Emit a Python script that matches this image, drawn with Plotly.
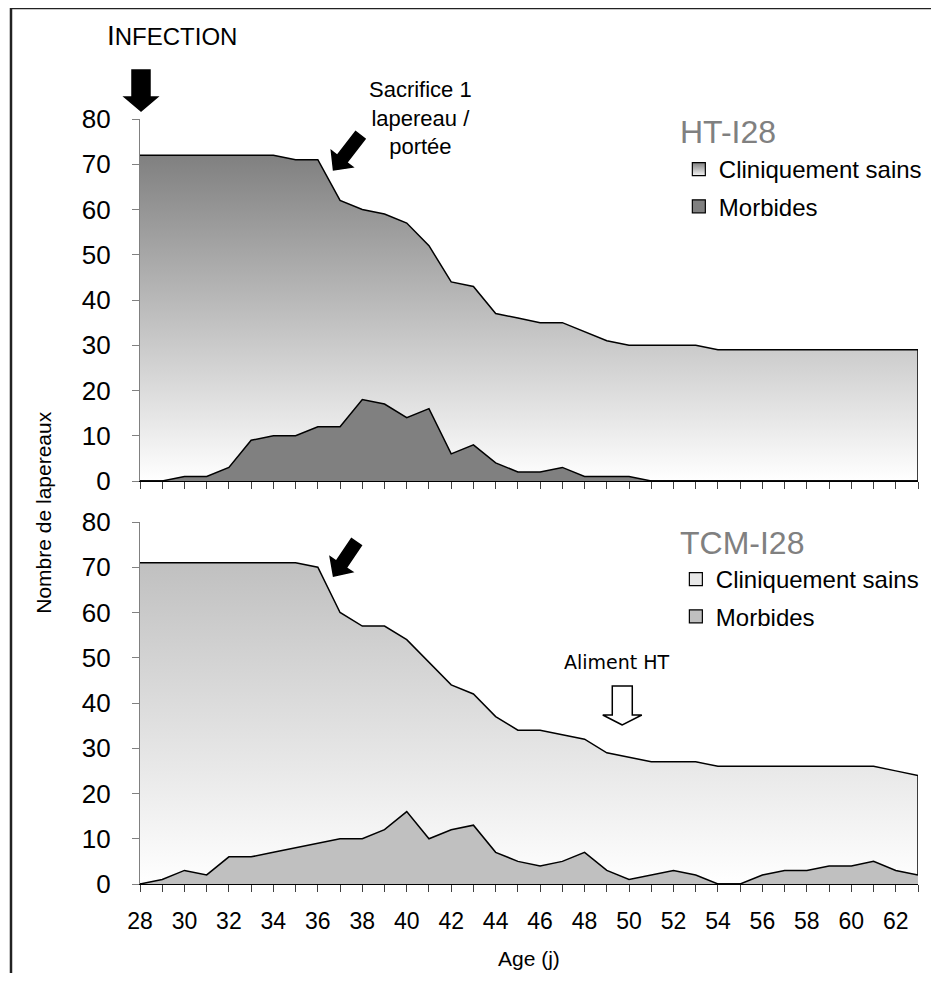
import math
import plotly.graph_objects as go

# Age des lapereaux (jours)
ages = list(range(28, 64))

# HT-I28
ht_sains = [72, 72, 72, 72, 72, 72, 72, 71, 71, 62, 60, 59, 57, 52, 44, 43, 37, 36,
            35, 35, 33, 31, 30, 30, 30, 30, 29, 29, 29, 29, 29, 29, 29, 29, 29, 29]
ht_morbides = [0, 0, 1, 1, 3, 9, 10, 10, 12, 12, 18, 17, 14, 16, 6, 8, 4, 2,
               2, 3, 1, 1, 1, 0, 0, 0, 0, 0, 0, 0, 0, 0, 0, 0, 0, 0]

# TCM-I28
tcm_sains = [71, 71, 71, 71, 71, 71, 71, 71, 70, 60, 57, 57, 54, 49, 44, 42, 37, 34,
             34, 33, 32, 29, 28, 27, 27, 27, 26, 26, 26, 26, 26, 26, 26, 26, 25, 24]
tcm_morbides = [0, 1, 3, 2, 6, 6, 7, 8, 9, 10, 10, 12, 16, 10, 12, 13, 7, 5,
                4, 5, 7, 3, 1, 2, 3, 2, 0, 0, 2, 3, 3, 4, 4, 5, 3, 2]

# la page ajoute une marge de 8 px autour de la figure
OFF = 8
W, H = 939 - OFF, 981 - 2 * OFF
ML, MR, MT, MB = 140 - OFF, 15, 119 - OFF, H - (884 - OFF)
PW, PH = W - ML - MR, H - MT - MB


def px(x):
    # position horizontale dans la fenetre -> coordonnee papier
    return (x - OFF - ML) / PW


def py(y):
    return (H - MB - (y - OFF)) / PH


def arrow_path(length, shaft_w, head_w, head_len, angle):
    # fleche pleine, pointe a l'origine, angle en degres (ecran, 90 = vers le bas)
    local = [(0, 0), (-head_len, head_w / 2), (-head_len, shaft_w / 2), (-length, shaft_w / 2),
             (-length, -shaft_w / 2), (-head_len, -shaft_w / 2), (-head_len, -head_w / 2)]
    a = math.radians(angle)
    dx, dy = math.cos(a), math.sin(a)
    pts = []
    for al, pe in local:
        sx = al * dx - pe * dy
        sy = al * dy + pe * dx
        pts.append((sx, -sy))
    return "M" + " L".join("%.2f,%.2f" % p for p in pts) + " Z"


fig = go.Figure()

panels = [
    (ht_sains, ht_morbides, "y", "#808080", "#808080"),
    (tcm_sains, tcm_morbides, "y2", "#c0c0c0", "#c0c0c0"),
]
for sains, morb, yax, top_col, morb_col in panels:
    xax = "x" if yax == "y" else "x2"
    fig.add_trace(go.Scatter(
        x=ages + [ages[-1], ages[0]], y=sains + [0, 0],
        xaxis=xax, yaxis=yax, mode="lines", fill="toself",
        fillgradient=dict(type="vertical", colorscale=[[0, "#ffffff"], [1, top_col]],
                          start=0, stop=max(sains)),
        line=dict(color="black", width=1.5), showlegend=False, hoverinfo="skip"))
    fig.add_trace(go.Scatter(
        x=ages, y=morb, xaxis=xax, yaxis=yax, mode="lines", fill="tozeroy",
        fillcolor=morb_col, line=dict(color="black", width=1.5),
        showlegend=False, hoverinfo="skip"))

# entrees de legende
legend_items = [
    ("legend", "Cliniquement sains", "#808080", "#f4f4f4"),
    ("legend", "Morbides", "#808080", None),
    ("legend2", "Cliniquement sains", "#e8e8e8", None),
    ("legend2", "Morbides", "#c0c0c0", None),
]
for i, (leg, name, col, grad) in enumerate(legend_items):
    marker = dict(symbol="square", size=13, color=col, line=dict(color="black", width=1.2))
    if grad:
        marker["gradient"] = dict(type="vertical", color=grad)
    fig.add_trace(go.Scatter(x=[None], y=[None], mode="markers", name=name,
                             legend=leg, legendgroup="g%d" % i, marker=marker))

axis_font = dict(family="Arial, Liberation Sans", size=26, color="black")
common_y = dict(range=[0, 80], dtick=10, tick0=0, showgrid=False, zeroline=False,
                showline=True, linecolor="#808080", linewidth=1.2,
                ticks="outside", ticklen=7, tickcolor="#808080",
                tickfont=axis_font, ticklabelstandoff=16)
common_x = dict(range=[28, 63], showgrid=False, zeroline=False, showline=True,
                linecolor="black", linewidth=1.2, ticks="outside", ticklen=7,
                tickcolor="#404040", dtick=2, tick0=28,
                minor=dict(dtick=1, ticks="outside", ticklen=7, tickcolor="#404040"))

fig.update_layout(
    width=W, height=H,
    margin=dict(l=ML, r=MR, t=MT, b=MB),
    paper_bgcolor="white", plot_bgcolor="white",
    font=dict(family="Arial, Liberation Sans", color="black"),
    xaxis=dict(common_x, anchor="y", showticklabels=False),
    yaxis=dict(common_y, domain=[py(481), 1]),
    xaxis2=dict(common_x, anchor="y2", tickfont=dict(family="Arial, Liberation Sans", size=23),
                ticklabelstandoff=9),
    yaxis2=dict(common_y, domain=[0, py(522)]),
    legend=dict(x=px(683), y=py(147), xanchor="left", yanchor="top",
                font=dict(size=24), bgcolor="rgba(0,0,0,0)", tracegroupgap=3,
                itemwidth=30),
    legend2=dict(x=px(680), y=py(557), xanchor="left", yanchor="top",
                 font=dict(size=24), bgcolor="rgba(0,0,0,0)", tracegroupgap=3,
                 itemwidth=30),
)

ann = [
    dict(text="I<span style='font-size:24px'>NFECTION</span>", x=px(172), y=py(36),
         font=dict(size=28)),
    dict(text="Sacrifice 1<br>lapereau /<br>portée", x=px(423), y=py(118),
         font=dict(size=22)),
    dict(text="HT-I28", x=px(682), y=py(132), xanchor="left", font=dict(size=32, color="#808080")),
    dict(text="TCM-I28", x=px(682), y=py(543), xanchor="left", font=dict(size=32, color="#808080")),
    dict(text="Aliment HT", x=px(621), y=py(662),
         font=dict(family="DejaVu Sans", size=19)),
    dict(text="Nombre de lapereaux", x=px(43), y=py(513), textangle=-90,
         font=dict(size=21)),
    dict(text="Age (j)", x=0.5, y=py(958), font=dict(size=21)),
]
for a in ann:
    a.update(xref="paper", yref="paper", showarrow=False)
    a.setdefault("xanchor", "center")
    a.setdefault("yanchor", "middle")
    fig.add_annotation(**a)

# fleches
arrows = [
    ((141, 111), arrow_path(41, 18, 33, 14, 90), "black"),
    ((335, 170), arrow_path(44, 12, 27, 14, 127.6), "black"),
    ((335, 576), arrow_path(41, 12, 27, 14, 124), "black"),
    ((626, 725), arrow_path(39, 20, 39, 10, 90), "white"),
]
for (tx, ty), path, col in arrows:
    fig.add_shape(type="path", path=path, xref="paper", yref="paper",
                  xsizemode="pixel", ysizemode="pixel", xanchor=px(tx), yanchor=py(ty),
                  fillcolor=col, line=dict(color="black", width=1.5), layer="above")

# cadre
fig.add_shape(type="rect", xref="paper", yref="paper", x0=px(10), y0=py(1000),
              x1=px(960), y1=py(8), line=dict(color="#222", width=2.5), layer="above")

fig.write_html("out.html")
